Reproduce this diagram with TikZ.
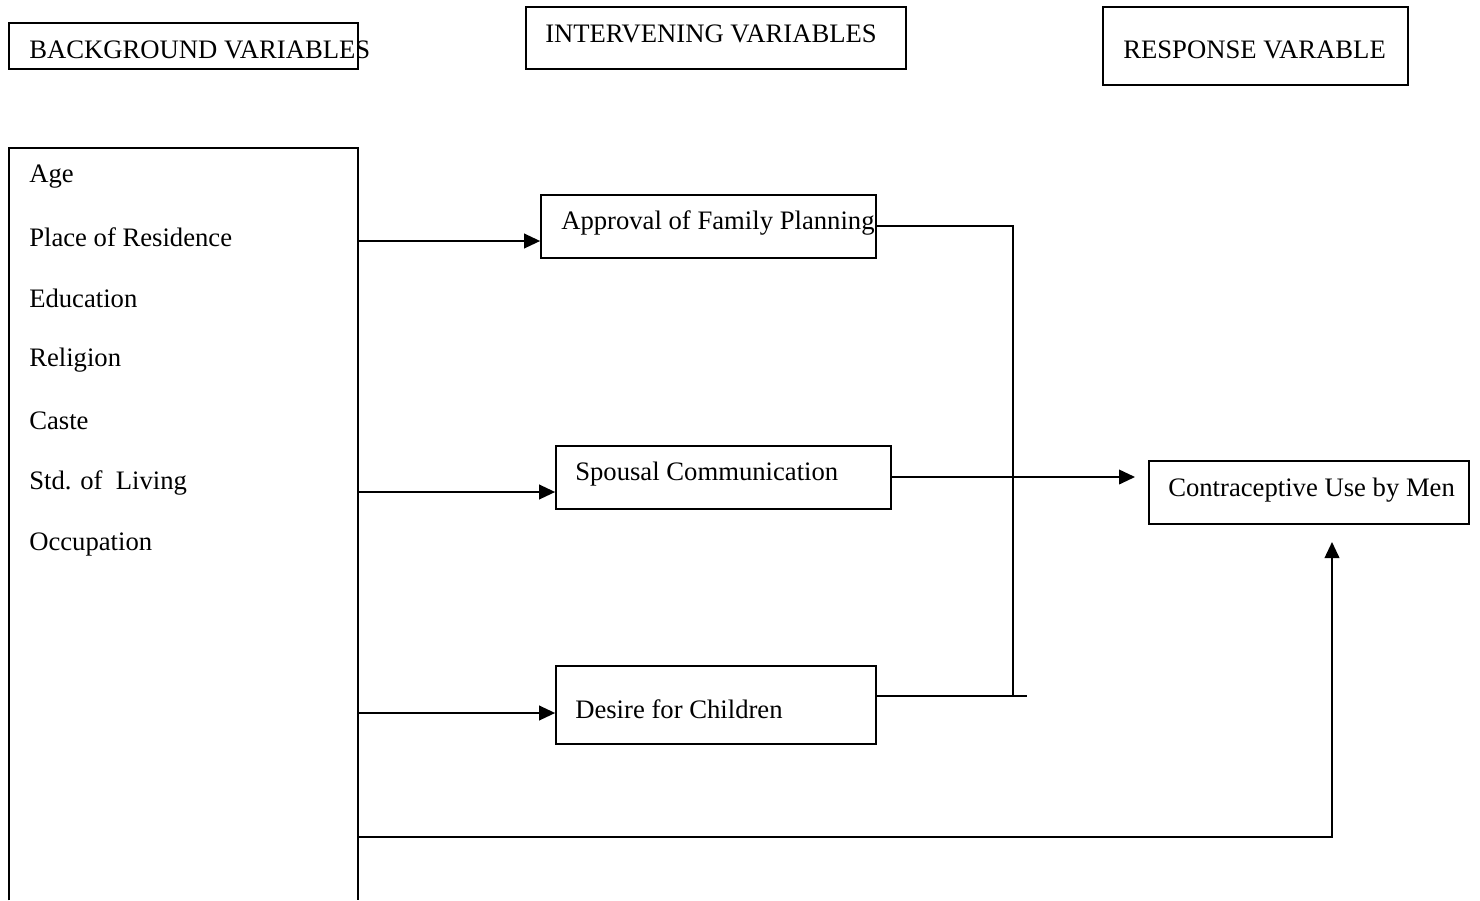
\documentclass[tikz,border=0pt]{standalone}
\usepackage{fontspec}
\setmainfont{Liberation Serif}
\usetikzlibrary{arrows.meta,fit}
\begin{document}
\begin{tikzpicture}[x=0.75pt,y=-0.75pt,
  box/.style={draw,line width=1.3pt,inner sep=0pt},
  hid/.style={inner sep=0pt},
  txt/.style={anchor=west,inner sep=0pt,font=\fontsize{20}{24}\selectfont},
  conn/.style={line width=1.3pt},
  arr/.style={line width=1.3pt,-{Triangle[length=12pt,width=11pt]}}]
\useasboundingbox (0,0) rectangle (1480,900);
% header boxes
\path (9,23) coordinate (bg1) (358,69) coordinate (bg2);
\node[box,fit=(bg1)(bg2)] (bghead) {};
\node[txt] (bgtxt) at (29,50) {BACKGROUND VARIABLES};
\path (526,7) coordinate (iv1) (906,69) coordinate (iv2);
\node[box,fit=(iv1)(iv2)] (ivhead) {};
\node[txt] (ivtxt) at (545,34) {INTERVENING VARIABLES};
\path (1103,7) coordinate (rv1) (1408,85) coordinate (rv2);
\node[box,fit=(rv1)(rv2)] (rvhead) {};
\node[txt] (rvtxt) at (1123,50) {RESPONSE VARABLE};
% left background box (open at bottom)
\path (9,148) coordinate (lb1) (358,900) coordinate (lb2);
\node[hid,fit=(lb1)(lb2)] (lbox) {};
\draw[conn] (lbox.south west) -- (lbox.north west) -- (lbox.north east) -- (lbox.south east);
\node[txt] (age) at (29,177) {Age};
\node[txt] (place) at (29,237) {Place of Residence};
\node[txt] (edu) at (29,298) {Education};
\node[txt] (rel) at (29,360) {Religion};
\node[txt] (caste) at (29,421) {Caste};
\node[txt] (std) at (29,483) {Std. of\ \ Living};
\node[txt] (occ) at (29,544) {Occupation};
% intervening boxes
\path (541,195) coordinate (ap1) (876,258) coordinate (ap2);
\node[box,fit=(ap1)(ap2)] (appr) {};
\node[txt] (apprtxt) at (561,223) {Approval of Family Planning};
\path (556,446) coordinate (sp1) (891,509) coordinate (sp2);
\node[box,fit=(sp1)(sp2)] (spou) {};
\node[txt] (spoutxt) at (575,474) {Spousal Communication};
\path (556,666) coordinate (de1) (876,744) coordinate (de2);
\node[box,fit=(de1)(de2)] (desi) {};
\node[txt] (desitxt) at (575,709) {Desire for Children};
% response box
\path (1149,461) coordinate (co1) (1469,524) coordinate (co2);
\node[box,fit=(co1)(co2)] (contr) {};
\node[txt] (contrtxt) at (1168,490) {Contraceptive Use by Men};
% connectors
\coordinate (a1) at (358,241);
\coordinate (a2) at (358,492);
\coordinate (a3) at (358,713);
\coordinate (a4) at (358,837);
\draw[arr] (a1) -- (appr.west |- a1);
\draw[arr] (a2) -- (spou.west |- a2);
\draw[arr] (a3) -- (desi.west |- a3);
\coordinate (apout) at (876,226);
\coordinate (junc) at (1013,696);
\coordinate (juncend) at (1027,696);
\draw[conn] (apout) -- (junc |- apout) -- (junc);
\draw[conn] (desi.east |- junc) -- (juncend);
\coordinate (spout) at (891,477);
\coordinate (spend) at (1135,477);
\draw[arr] (spout) -- (spend);
\coordinate (upend) at (1332,542);
\draw[arr] (a4) -- (upend |- a4) -- (upend);
\end{tikzpicture}
\end{document}
